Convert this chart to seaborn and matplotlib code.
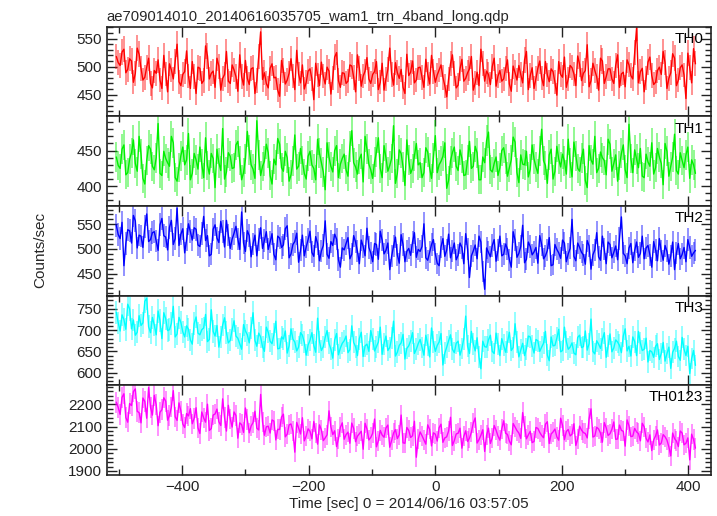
import numpy as np
import pandas as pd
import matplotlib
matplotlib.use("Agg")
import matplotlib.pyplot as plt
from matplotlib.ticker import MultipleLocator
import seaborn as sns

# light curves, one sample every 3 s from t = -504 s
# (the "_a" lists hold the even samples, the "_b" lists the odd ones)
t_start = -504
t_step = 3

th0_a = [518, 502, 531, 495, 510, 488, 522, 476, 499, 470,
         493, 512, 461, 487, 505, 478, 540, 466, 491, 483,
         509, 452, 497, 475, 519, 488, 463, 501, 479, 527,
         470, 494, 456, 482, 511, 468, 498, 475, 562, 489,
         462, 505, 481, 447, 493, 476, 514, 459, 487, 503,
         472, 496, 441, 485, 508, 469, 492, 480, 525, 463,
         488, 474, 501, 455, 497, 483, 516, 470, 491, 459,
         506, 478, 533, 467, 489, 495, 452, 484, 510, 476,
         499, 463, 487, 520, 472, 494, 481, 446, 505, 488,
         467, 513, 479, 496, 458, 490, 531, 474, 486, 500,
         465, 493, 478, 512, 456, 489, 502, 471, 527, 484,
         461, 497, 480, 509, 473, 491, 449, 486, 517, 478,
         498, 466, 504, 488, 539, 475, 493, 458, 510, 482,
         496, 470, 521, 487, 464, 503, 478, 569, 491, 455,
         508, 484, 472, 499, 527, 461, 489, 515, 476, 503,
         443, 498, 532]
th0_b = [507, 526, 489, 514, 472, 533, 497, 481, 515, 462,
         488, 476, 520, 455, 494, 509, 473, 486, 528, 461,
         482, 499, 470, 537, 478, 492, 515, 458, 486, 474,
         503, 482, 521, 467, 479, 496, 452, 518, 477, 470,
         497, 480, 458, 511, 469, 488, 483, 529, 471, 460,
         492, 478, 506, 466, 483, 499, 451, 517, 475, 489,
         470, 503, 481, 521, 465, 492, 478, 486, 509, 472,
         458, 495, 486, 507, 479, 463, 522, 490, 471, 498,
         481, 513, 469, 492, 485, 503, 466, 478, 521, 462,
         496, 474, 489, 518, 471, 466, 505, 492, 468, 515,
         483, 474, 497, 469, 501, 476, 486, 512, 459, 498,
         479, 510, 466, 485, 496, 472, 509, 481, 463, 502,
         487, 519, 475, 493, 464, 506, 482, 515, 470, 496,
         478, 502, 463, 490, 512, 484, 525, 471, 497, 480,
         517, 468, 493, 486, 507, 479, 523, 466, 498, 485,
         524, 471, 505]

th1_a = [441, 425, 458, 419, 447, 432, 470, 411, 436, 452,
         423, 488, 415, 439, 428, 461, 407, 443, 430, 474,
         418, 437, 455, 412, 429, 446, 398, 433, 481, 420,
         442, 426, 463, 409, 438, 451, 424, 492, 415, 435,
         447, 403, 430, 459, 421, 440, 416, 472, 428, 436,
         410, 449, 425, 466, 433, 395, 441, 420, 457, 431,
         445, 414, 478, 427, 438, 406, 452, 423, 434, 468,
         412, 440, 429, 485, 418, 446, 401, 437, 425, 460,
         433, 419, 448, 411, 471, 430, 442, 397, 436, 455,
         422, 439, 416, 463, 428, 447, 409, 433, 476, 420,
         441, 426, 454, 414, 437, 462, 405, 431, 449, 424,
         438, 418, 480, 429, 444, 410, 456, 427, 435, 466,
         413, 443, 421, 452, 398, 437, 470, 425, 440, 416,
         459, 432, 407, 446, 423, 487, 419, 438, 453, 412,
         434, 461, 426, 441, 402, 449, 428, 473, 417, 436,
         444, 411, 430]
th1_b = [429, 452, 416, 438, 465, 421, 445, 403, 457, 428,
         440, 418, 449, 433, 470, 412, 426, 455, 437, 409,
         446, 424, 431, 468, 417, 439, 452, 422, 410, 447,
         425, 458, 436, 419, 477, 430, 411, 444, 428, 459,
         415, 438, 467, 426, 449, 407, 435, 424, 453, 418,
         442, 430, 409, 446, 420, 461, 428, 450, 412, 439,
         423, 456, 433, 417, 445, 470, 431, 411, 448, 425,
         457, 421, 439, 404, 451, 427, 465, 418, 443, 430,
         412, 454, 426, 440, 419, 435, 461, 408, 447, 428,
         451, 415, 437, 425, 456, 409, 441, 464, 423, 432,
         415, 450, 438, 426, 469, 419, 444, 430, 413, 458,
         427, 449, 436, 404, 452, 421, 438, 445, 417, 433,
         462, 425, 440, 408, 457, 431, 419, 448, 436, 466,
         421, 444, 429, 458, 412, 439, 451, 426, 414, 445,
         428, 417, 453, 432, 460, 414, 441, 422, 447, 426,
         455, 437, 418]

th2_a = [548, 521, 466, 539, 512, 557, 528, 503, 571, 519,
         535, 497, 562, 524, 544, 509, 583, 530, 492, 551,
         518, 540, 505, 566, 527, 489, 549, 513, 536, 558,
         501, 532, 520, 575, 495, 527, 510, 486, 543, 517,
         499, 531, 478, 522, 508, 547, 490, 515, 473, 528,
         504, 536, 485, 511, 496, 557, 481, 507, 520, 463,
         498, 523, 489, 514, 470, 505, 542, 492, 511, 479,
         518, 497, 458, 506, 488, 529, 474, 501, 514, 483,
         495, 551, 477, 509, 490, 466, 521, 498, 482, 512,
         487, 503, 531, 442, 496, 480, 514, 418, 493, 507,
         475, 526, 489, 500, 463, 518, 491, 548, 479, 505,
         494, 471, 509, 486, 523, 468, 499, 481, 512, 490,
         560, 476, 503, 488, 517, 459, 498, 484, 526, 470,
         509, 493, 478, 565, 486, 502, 472, 514, 491, 480,
         507, 463, 498, 521, 477, 495, 486, 458, 511, 489,
         474, 503, 492]
th2_b = [529, 554, 511, 537, 568, 502, 526, 545, 515, 533,
         516, 549, 527, 498, 558, 521, 507, 541, 519, 535,
         543, 508, 531, 517, 486, 540, 522, 556, 504, 528,
         520, 546, 499, 512, 537, 484, 528, 519, 501, 535,
         514, 489, 526, 503, 541, 482, 509, 532, 497, 486,
         519, 493, 525, 476, 507, 489, 515, 530, 478, 502,
         511, 480, 527, 495, 518, 486, 503, 474, 509, 536,
         490, 512, 485, 524, 471, 509, 495, 487, 533, 499,
         505, 482, 493, 519, 471, 504, 485, 530, 496, 478,
         512, 470, 499, 486, 508, 526, 455, 502, 484, 519,
         497, 486, 510, 478, 535, 483, 505, 472, 514, 488,
         503, 527, 480, 497, 466, 509, 492, 518, 474, 501,
         485, 512, 493, 469, 506, 488, 533, 477, 499, 514,
         482, 506, 521, 491, 470, 511, 497, 483, 526, 502,
         488, 515, 476, 495, 507, 469, 514, 492, 480, 503,
         519, 485, 497]

th3_a = [742, 698, 725, 761, 703, 688, 734, 717, 775, 694,
         712, 745, 680, 727, 701, 756, 691, 718, 684, 702,
         667, 731, 689, 705, 673, 748, 686, 660, 712, 694,
         676, 722, 681, 655, 698, 670, 741, 662, 684, 650,
         695, 668, 721, 657, 679, 646, 703, 672, 660, 688,
         641, 676, 664, 728, 652, 683, 669, 634, 692, 658,
         675, 647, 710, 661, 680, 638, 667, 699, 651, 672,
         643, 686, 659, 721, 648, 670, 632, 663, 694, 655,
         678, 641, 666, 705, 650, 672, 618, 660, 689, 647,
         674, 657, 733, 645, 668, 682, 609, 661, 677, 650,
         693, 640, 664, 671, 652, 715, 637, 669, 656, 684,
         646, 675, 660, 697, 628, 663, 681, 649, 707, 655,
         670, 642, 688, 661, 653, 726, 644, 667, 678, 636,
         691, 658, 672, 647, 703, 662, 684, 640, 669, 655,
         625, 649, 662, 631, 671, 645, 610, 657, 638, 683,
         640, 598, 652]
th3_b = [717, 736, 702, 750, 724, 695, 711, 768, 708, 730,
         689, 722, 741, 699, 716, 684, 730, 696, 710, 677,
         715, 693, 701, 737, 678, 697, 711, 683, 729, 670,
         701, 686, 668, 713, 689, 705, 676, 693, 661, 707,
         674, 690, 656, 684, 698, 663, 679, 651, 694, 671,
         665, 694, 648, 673, 661, 699, 655, 677, 642, 669,
         686, 654, 671, 640, 695, 663, 650, 679, 661, 707,
         668, 652, 681, 639, 664, 690, 657, 675, 645, 668,
         659, 688, 637, 671, 664, 692, 646, 675, 655, 669,
         641, 680, 662, 697, 651, 637, 674, 660, 688, 645,
         667, 680, 648, 695, 659, 671, 653, 640, 686, 662,
         678, 650, 669, 641, 684, 664, 702, 652, 673, 660,
         646, 683, 659, 698, 668, 650, 675, 657, 694, 662,
         649, 677, 664, 686, 651, 639, 673, 697, 652, 681,
         652, 636, 668, 645, 627, 660, 648, 674, 629, 655,
         662, 633, 617]

th0123_a = [2210, 2155, 2248, 2120, 2195, 2270, 2163, 2229, 2138, 2187,
            2241, 2104, 2176, 2215, 2150, 2262, 2128, 2170, 2096, 2148,
            2113, 2185, 2069, 2139, 2201, 2091, 2157, 2122, 2225, 2080,
            2135, 2166, 2048, 2109, 2184, 2072, 2118, 2093, 2245, 2061,
            2102, 2130, 2040, 2087, 2156, 2066, 2112, 1985, 2094, 2140,
            2058, 2079, 2123, 2021, 2085, 2049, 2171, 2064, 2010, 2097,
            2043, 2075, 2116, 2032, 2068, 1998, 2089, 2051, 2134, 2036,
            2062, 2094, 2007, 2071, 2046, 2152, 2025, 2083, 2059, 1962,
            2076, 2040, 2108, 2013, 2066, 2095, 2029, 2054, 2142, 2037,
            2070, 2003, 2081, 2048, 2117, 2026, 2061, 1988, 2093, 2050,
            2084, 2039, 2126, 2065, 2018, 2098, 2071, 2163, 2045, 2079,
            2033, 2092, 2060, 2111, 2024, 2076, 2054, 2138, 2041, 2087,
            2066, 2015, 2102, 2073, 2049, 2180, 2058, 2089, 2030, 2095,
            2068, 2121, 2044, 2083, 2012, 2104, 2057, 2076, 2036, 2099,
            2031, 1992, 2058, 2017, 2064, 2039, 1968, 2046, 2010, 2071,
            2025, 1950, 2042]
th0123_b = [2186, 2232, 2141, 2204, 2258, 2169, 2117, 2213, 2276, 2152,
            2198, 2165, 2230, 2129, 2188, 2144, 2207, 2112, 2159, 2181,
            2137, 2094, 2166, 2120, 2083, 2152, 2179, 2105, 2141, 2196,
            2098, 2150, 2117, 2074, 2131, 2103, 2169, 2085, 2122, 2099,
            2071, 2125, 2088, 2143, 2054, 2108, 2080, 2119, 2067, 2036,
            2090, 2045, 2072, 2108, 2037, 2063, 2099, 2081, 2046, 2117,
            2064, 2025, 2092, 2057, 2079, 2115, 2040, 2070, 2009, 2083,
            2052, 2107, 2038, 2086, 2063, 2027, 2096, 2051, 2124, 2044,
            2059, 2021, 2088, 2072, 2035, 2111, 2049, 2080, 2015, 2067,
            2093, 2056, 2033, 2075, 2139, 2041, 2086, 2062, 2024, 2105,
            2057, 2090, 2070, 2035, 2114, 2082, 2047, 2101, 2063, 2028,
            2096, 2074, 2050, 2122, 2067, 2089, 2039, 2105, 2078, 2058,
            2113, 2045, 2084, 2069, 2136, 2053, 2097, 2071, 2118, 2060,
            2088, 2043, 2107, 2079, 2130, 2055, 2092, 2069, 2115, 2047,
            2063, 2040, 2085, 2026, 2054, 2009, 2071, 2035, 2080, 2018,
            2049, 2066, 2003]

bands = ["TH0", "TH1", "TH2", "TH3", "TH0123"]
series = [(th0_a, th0_b), (th1_a, th1_b), (th2_a, th2_b),
          (th3_a, th3_b), (th0123_a, th0123_b)]
colors = ["#ff0000", "#00f000", "#0000ff", "#00ffff", "#ff00ff"]
ylims = [(411, 571), (372, 498), (405, 587), (570, 781), (1882, 2286)]
major = [50, 50, 50, 50, 100]
minor = [10, 10, 10, 10, 20]

sns.set_theme(style="ticks")
plt.rcParams["font.family"] = ["Liberation Sans", "DejaVu Sans"]

fig, axes = plt.subplots(5, 1, figsize=(7.17, 5.16), dpi=100, sharex=True)
fig.subplots_adjust(left=0.149, right=0.992, top=0.948, bottom=0.0795, hspace=0)

for ax, name, (va, vb), c, yl, mj, mn in zip(axes, bands, series, colors, ylims, major, minor):
    vals = np.empty(len(va) + len(vb))
    vals[0::2] = va
    vals[1::2] = vb
    t = t_start + t_step * np.arange(len(vals))
    df = pd.DataFrame({"time": t, "rate": vals})
    err = np.sqrt(vals)
    ax.vlines(df["time"], vals - err, vals + err, color=c, alpha=0.5, lw=1.2)
    sns.lineplot(data=df, x="time", y="rate", ax=ax, color=c, lw=1.0, estimator=None)
    ax.set_ylim(*yl)
    ax.set_xlim(-519, 436)
    ax.set_xlabel("")
    ax.set_ylabel("")
    ax.yaxis.set_major_locator(MultipleLocator(mj))
    ax.yaxis.set_minor_locator(MultipleLocator(mn))
    ax.xaxis.set_major_locator(MultipleLocator(200))
    ax.xaxis.set_minor_locator(MultipleLocator(100))
    ax.tick_params(which="both", direction="in", top=True, right=True,
                   labelsize=11, colors="#222222", width=1.0)
    ax.tick_params(which="major", length=7)
    ax.tick_params(which="minor", length=4)
    for s in ax.spines.values():
        s.set_color("#222222")
        s.set_linewidth(1.2)
    ax.text(0.987, 0.865, name, transform=ax.transAxes, ha="right", va="center",
            fontsize=11, color="black")

axes[-1].set_xlabel("Time [sec] 0 = 2014/06/16 03:57:05", fontsize=11, labelpad=2)
fig.text(0.056, 0.515, "Counts/sec", rotation=90, ha="center", va="center", fontsize=11)
axes[0].set_title("ae709014010_20140616035705_wam1_trn_4band_long.qdp",
                  loc="left", fontsize=10.6, pad=4)

fig.savefig("out.png", dpi=100)
